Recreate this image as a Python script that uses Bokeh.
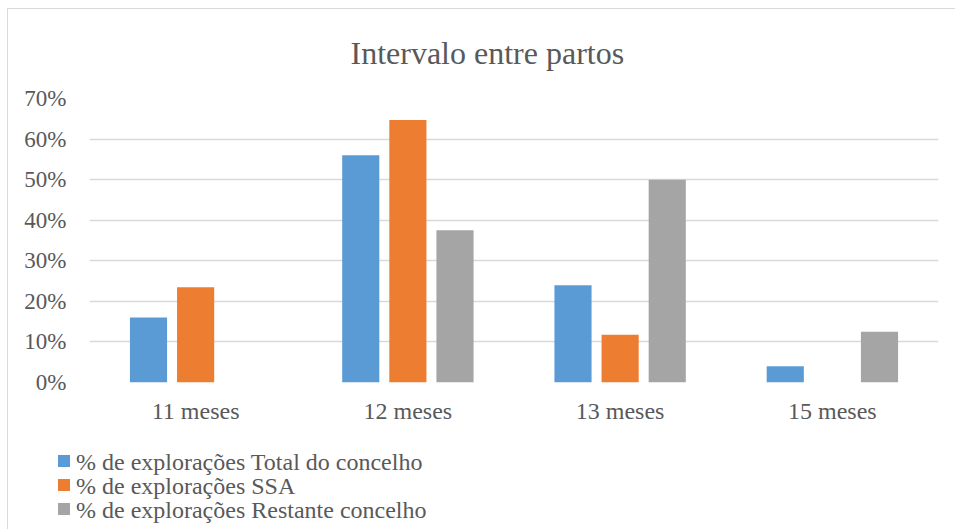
from bokeh.plotting import figure
from bokeh.layouts import column
from bokeh.models import (FactorRange, FixedTicker, NumeralTickFormatter, ColumnDataSource, Div)
from bokeh.transform import dodge
from bokeh.embed import file_html
from bokeh.resources import INLINE

categories = ["11 meses", "12 meses", "13 meses", "15 meses"]
total_concelho = [0.16, 0.56, 0.24, 0.04]
ssa = [0.235, 0.647, 0.118, 0.0]
restante = [0.0, 0.375, 0.50, 0.125]
series_names = ["% de explorações Total do concelho",
                "% de explorações SSA",
                "% de explorações Restante concelho"]
colors = ["#5B9BD5", "#ED7D31", "#A5A5A5"]
y_ticks = [0, 0.1, 0.2, 0.3, 0.4, 0.5, 0.6, 0.7]

FONT = "Liberation Serif"
TXT = "#595959"

src = ColumnDataSource(dict(cat=categories, t=total_concelho, s=ssa, r=restante))

p = figure(x_range=FactorRange(*categories), y_range=(0, 0.7),
           width=955, height=445, output_backend="svg", toolbar_location=None,
           min_border_left=89, min_border_right=17, min_border_top=98,
           min_border_bottom=63)
p.border_fill_color = None

p.title.text = "Intervalo entre partos"
p.title.align = "left"
p.title.offset = 261
p.title.text_font = FONT
p.title.text_font_size = "32px"
p.title.text_font_style = "normal"
p.title.text_color = TXT
p.title.standoff = 56

offsets = [-0.222, 0.0, 0.222]
fields = ["t", "s", "r"]
for off, f, c in zip(offsets, fields, colors):
    p.vbar(x=dodge("cat", off, range=p.x_range), top=f, width=0.175,
           source=src, fill_color=c, line_color=None)

p.outline_line_color = None
p.xgrid.grid_line_color = None
p.ygrid.ticker = FixedTicker(ticks=y_ticks)
p.ygrid.grid_line_color = "#D9D9D9"
p.ygrid.grid_line_width = 1.5

p.yaxis.ticker = FixedTicker(ticks=y_ticks)
p.yaxis.formatter = NumeralTickFormatter(format="0%")
for ax in (p.xaxis, p.yaxis):
    ax.axis_line_color = None
    ax.major_tick_line_color = None
    ax.minor_tick_line_color = None
    ax.major_label_text_font = FONT
    ax.major_label_text_color = TXT
p.yaxis.major_label_text_font_size = "23px"
p.xaxis.major_label_text_font_size = "24px"
p.yaxis.major_label_standoff = 17
p.xaxis.major_label_standoff = 9

# legend below the chart
rows = []
for name, c in zip(series_names, colors):
    rows.append(
        '<div style="white-space:nowrap;">'
        f'<span style="display:inline-block;width:12px;height:12px;background:{c};'
        'margin-right:6px;vertical-align:3px;"></span>'
        f'{name}</div>')
html = ('<div style="font-family:\'Liberation Serif\',serif;font-size:24px;'
        f'line-height:24px;color:{TXT};padding:5px 0 0 58px;">' + "".join(rows) + '</div>')
legend_div = Div(text=html, width=955, height=84, margin=(0, 0, 0, 0))

layout = column(p, legend_div, spacing=0)
layout.styles = {
    "background": ("linear-gradient(#D9D9D9,#D9D9D9) 7px 8px / 1px 100% no-repeat, "
                   "linear-gradient(#D9D9D9,#D9D9D9) 7px 8px / 100% 1px no-repeat, #FFFFFF"),
}
open("out.html", "w").write(file_html(layout, INLINE))
